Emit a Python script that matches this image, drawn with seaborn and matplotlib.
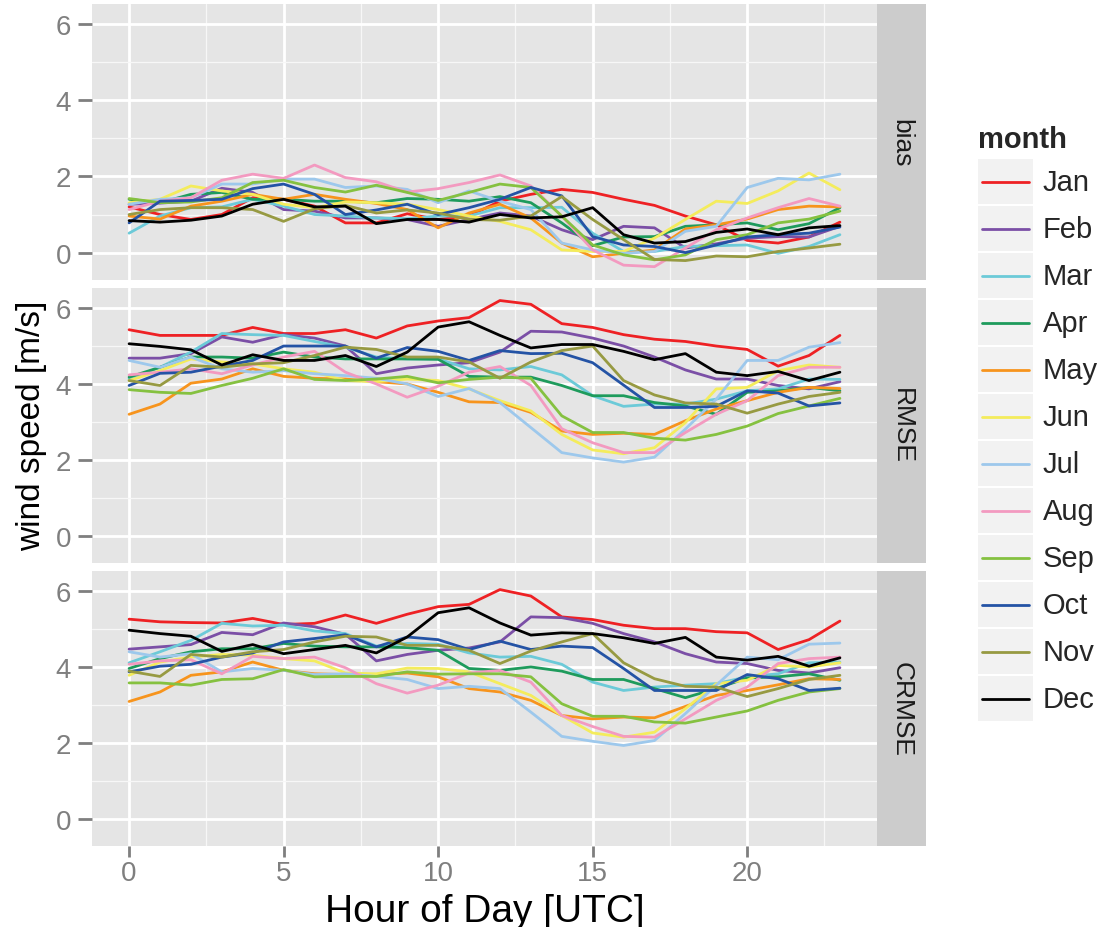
import numpy as np
import pandas as pd
import matplotlib
matplotlib.use("Agg")
import matplotlib.pyplot as plt
import seaborn as sns
from matplotlib.patches import Rectangle
from matplotlib.lines import Line2D

# ---------------- data ----------------
hours = list(range(24))
months = ["Jan", "Feb", "Mar", "Apr", "May", "Jun",
          "Jul", "Aug", "Sep", "Oct", "Nov", "Dec"]
metrics = ["bias", "RMSE", "CRMSE"]
month_colors = ["#EE2124", "#7B4FA6", "#6CCAD8", "#1E9B5C", "#F7941D", "#F4EC5C",
                "#9DC8EC", "#F39AC0", "#85C140", "#2453A5", "#979A42", "#000000"]

bias_jan = [1.20, 1.00, 0.87, 1.00, 1.44, 1.40, 1.22, 0.78, 0.78, 1.02, 0.87, 0.96,
            1.35, 1.53, 1.66, 1.58, 1.40, 1.24, 0.96, 0.73, 0.32, 0.25, 0.41, 0.80]
bias_feb = [1.27, 1.30, 1.35, 1.69, 1.58, 1.13, 1.09, 0.91, 0.91, 0.87, 0.69, 0.87,
            1.04, 0.96, 0.60, 0.34, 0.69, 0.65, 0.12, 0.23, 0.38, 0.42, 0.41, 0.69]
bias_mar = [0.51, 0.96, 1.18, 1.20, 1.40, 1.22, 1.00, 0.96, 0.91, 0.89, 0.96, 0.96,
            1.18, 1.18, 1.19, 0.51, 0.03, 0.03, 0.16, 0.18, 0.20, -0.02, 0.16, 0.47]
bias_apr = [1.40, 1.31, 1.53, 1.58, 1.40, 1.40, 1.35, 1.35, 1.31, 1.42, 1.40, 1.35,
            1.47, 1.31, 0.78, 0.18, 0.41, 0.42, 0.69, 0.73, 0.78, 0.60, 0.76, 1.18]
bias_may = [0.96, 0.88, 1.22, 1.35, 1.53, 1.40, 1.53, 1.40, 1.29, 1.13, 0.65, 1.04,
            1.27, 0.91, 0.25, -0.11, -0.02, 0.07, 0.62, 0.73, 0.88, 1.13, 1.22, 1.20]
bias_jun = [1.31, 1.40, 1.75, 1.62, 1.53, 1.27, 1.18, 1.33, 1.31, 1.27, 1.13, 0.96,
            0.82, 0.60, 0.07, 0.03, 0.03, 0.38, 0.87, 1.35, 1.29, 1.62, 2.09, 1.65]
bias_jul = [1.27, 1.40, 1.44, 1.80, 1.80, 1.93, 1.93, 1.71, 1.75, 1.66, 1.31, 1.62,
            1.35, 1.13, 0.25, 0.07, -0.02, 0.03, 0.56, 0.69, 1.71, 1.95, 1.91, 2.06]
bias_aug = [1.13, 1.35, 1.44, 1.90, 2.06, 1.95, 2.30, 1.97, 1.86, 1.59, 1.68, 1.84,
            2.04, 1.75, 0.96, 0.07, -0.33, -0.37, 0.12, 0.60, 0.91, 1.18, 1.42, 1.22]
bias_sep = [1.42, 1.31, 1.33, 1.44, 1.84, 1.90, 1.71, 1.59, 1.77, 1.58, 1.37, 1.58,
            1.80, 1.71, 0.96, 0.20, -0.06, -0.19, -0.06, 0.34, 0.47, 0.78, 0.88, 1.09]
bias_oct = [0.78, 1.35, 1.37, 1.40, 1.68, 1.80, 1.53, 1.00, 1.12, 1.27, 1.00, 1.18,
            1.40, 1.71, 1.49, 0.42, 0.20, 0.16, 0.00, 0.20, 0.41, 0.47, 0.51, 0.67]
bias_nov = [1.00, 1.13, 1.18, 1.18, 1.13, 0.82, 1.15, 1.24, 1.04, 1.12, 1.04, 0.87,
            0.85, 0.96, 1.47, 0.87, 0.34, -0.18, -0.21, -0.09, -0.11, 0.03, 0.12, 0.22]
bias_dec = [0.84, 0.80, 0.85, 0.96, 1.27, 1.40, 1.20, 1.22, 0.76, 0.87, 0.87, 0.80,
            1.00, 0.91, 0.94, 1.18, 0.47, 0.25, 0.29, 0.53, 0.62, 0.47, 0.65, 0.71]

rmse_jan = [5.43, 5.28, 5.28, 5.28, 5.49, 5.33, 5.33, 5.43, 5.21, 5.53, 5.66, 5.75,
            6.20, 6.10, 5.59, 5.49, 5.30, 5.18, 5.12, 5.00, 4.91, 4.47, 4.75, 5.28]
rmse_feb = [4.68, 4.68, 4.80, 5.24, 5.10, 5.30, 5.21, 5.00, 4.27, 4.42, 4.50, 4.56,
            4.84, 5.39, 5.37, 5.21, 5.00, 4.71, 4.37, 4.13, 4.13, 3.96, 3.87, 4.06]
rmse_mar = [4.13, 4.44, 4.84, 5.33, 5.30, 5.28, 5.12, 4.97, 4.71, 4.66, 4.66, 4.40,
            4.37, 4.46, 4.24, 3.69, 3.41, 3.47, 3.47, 3.60, 3.82, 3.87, 4.13, 4.12]
rmse_apr = [4.18, 4.44, 4.71, 4.71, 4.68, 4.84, 4.71, 4.66, 4.66, 4.66, 4.65, 4.20,
            4.18, 4.18, 3.96, 3.69, 3.69, 3.51, 3.42, 3.20, 3.78, 3.82, 3.91, 3.82]
rmse_may = [3.20, 3.47, 4.02, 4.13, 4.40, 4.20, 4.15, 4.13, 4.06, 4.00, 3.78, 3.53,
            3.51, 3.25, 2.76, 2.67, 2.70, 2.67, 3.03, 3.34, 3.56, 3.78, 3.91, 3.88]
rmse_jun = [4.09, 4.35, 4.66, 4.58, 4.53, 4.40, 4.31, 4.09, 4.06, 4.13, 4.09, 3.87,
            3.56, 3.29, 2.67, 2.26, 2.16, 2.32, 2.98, 3.87, 3.91, 4.35, 4.50, 4.44]
rmse_jul = [4.62, 4.44, 4.71, 4.40, 4.31, 4.35, 4.27, 4.22, 4.15, 4.00, 3.67, 3.88,
            3.51, 2.85, 2.19, 2.05, 1.94, 2.07, 2.81, 3.60, 4.62, 4.62, 4.97, 5.09]
rmse_aug = [4.24, 4.31, 4.40, 4.27, 4.50, 4.71, 4.86, 4.31, 4.00, 3.65, 3.94, 4.31,
            4.46, 3.96, 2.82, 2.45, 2.19, 2.19, 2.72, 3.20, 3.56, 4.22, 4.44, 4.44]
rmse_sep = [3.85, 3.78, 3.75, 3.96, 4.15, 4.40, 4.12, 4.09, 4.13, 4.20, 4.03, 4.12,
            4.18, 4.15, 3.16, 2.72, 2.72, 2.57, 2.52, 2.67, 2.89, 3.22, 3.42, 3.62]
rmse_oct = [3.96, 4.28, 4.31, 4.47, 4.62, 5.00, 5.00, 5.00, 4.68, 4.96, 4.86, 4.62,
            4.88, 4.80, 4.81, 4.56, 3.97, 3.38, 3.38, 3.41, 3.82, 3.76, 3.42, 3.50]
rmse_nov = [4.09, 3.96, 4.49, 4.44, 4.53, 4.56, 4.75, 4.97, 4.91, 4.71, 4.71, 4.58,
            4.15, 4.58, 4.88, 5.00, 4.09, 3.71, 3.50, 3.47, 3.23, 3.47, 3.67, 3.78]
rmse_dec = [5.06, 4.99, 4.90, 4.50, 4.77, 4.62, 4.62, 4.75, 4.46, 4.84, 5.50, 5.64,
            5.28, 4.95, 5.04, 5.04, 4.86, 4.64, 4.80, 4.31, 4.22, 4.33, 4.09, 4.31]

crmse_jan = [5.26, 5.19, 5.17, 5.16, 5.28, 5.12, 5.15, 5.37, 5.15, 5.39, 5.59, 5.65,
             6.04, 5.87, 5.32, 5.25, 5.10, 5.01, 5.01, 4.93, 4.90, 4.46, 4.72, 5.21]
crmse_feb = [4.47, 4.53, 4.59, 4.91, 4.85, 5.16, 5.06, 4.86, 4.16, 4.33, 4.44, 4.50,
             4.66, 5.32, 5.30, 5.15, 4.88, 4.66, 4.35, 4.13, 4.09, 3.91, 3.84, 3.98]
crmse_mar = [4.11, 4.40, 4.70, 5.15, 5.08, 5.10, 4.95, 4.88, 4.55, 4.62, 4.60, 4.37,
             4.26, 4.28, 4.07, 3.60, 3.38, 3.47, 3.52, 3.56, 3.74, 3.82, 4.11, 4.13]
crmse_apr = [3.96, 4.22, 4.40, 4.48, 4.48, 4.62, 4.55, 4.53, 4.53, 4.51, 4.44, 3.96,
             3.91, 4.00, 3.89, 3.67, 3.67, 3.43, 3.19, 3.43, 3.71, 3.74, 3.82, 3.65]
crmse_may = [3.09, 3.34, 3.78, 3.87, 4.13, 3.91, 3.82, 3.80, 3.80, 3.84, 3.74, 3.43,
             3.34, 3.12, 2.72, 2.63, 2.68, 2.66, 2.96, 3.25, 3.38, 3.53, 3.69, 3.67]
crmse_jun = [3.78, 4.13, 4.26, 4.33, 4.31, 4.22, 4.16, 3.84, 3.82, 3.97, 3.96, 3.87,
             3.56, 3.25, 2.72, 2.26, 2.15, 2.28, 2.90, 3.56, 3.65, 4.04, 4.00, 4.11]
crmse_jul = [4.40, 4.26, 4.35, 3.87, 3.96, 3.91, 3.80, 3.82, 3.75, 3.67, 3.43, 3.49,
             3.43, 2.81, 2.17, 2.04, 1.93, 2.06, 2.77, 3.52, 4.26, 4.19, 4.60, 4.63]
crmse_aug = [4.07, 4.16, 4.19, 3.82, 4.28, 4.22, 4.26, 3.98, 3.56, 3.31, 3.52, 3.84,
             3.91, 3.60, 2.72, 2.43, 2.17, 2.15, 2.63, 3.12, 3.47, 4.09, 4.22, 4.26]
crmse_sep = [3.58, 3.58, 3.52, 3.67, 3.69, 3.93, 3.74, 3.75, 3.75, 3.87, 3.81, 3.82,
             3.82, 3.74, 3.03, 2.70, 2.70, 2.55, 2.52, 2.68, 2.84, 3.12, 3.34, 3.43]
crmse_oct = [3.87, 4.02, 4.07, 4.26, 4.37, 4.66, 4.75, 4.85, 4.53, 4.79, 4.72, 4.46,
             4.68, 4.46, 4.55, 4.51, 3.96, 3.38, 3.38, 3.38, 3.80, 3.69, 3.38, 3.44]
crmse_nov = [3.89, 3.75, 4.33, 4.26, 4.40, 4.46, 4.66, 4.81, 4.79, 4.57, 4.57, 4.44,
             4.09, 4.42, 4.66, 4.88, 4.11, 3.69, 3.49, 3.47, 3.22, 3.43, 3.67, 3.78]
crmse_dec = [4.97, 4.88, 4.81, 4.41, 4.59, 4.35, 4.46, 4.57, 4.37, 4.79, 5.43, 5.56,
             5.16, 4.84, 4.90, 4.88, 4.77, 4.62, 4.78, 4.26, 4.18, 4.28, 4.02, 4.24]

x_ticks = [0, 5, 10, 15, 20]
y_ticks = [0, 2, 4, 6]

series = {
    "bias": [bias_jan, bias_feb, bias_mar, bias_apr, bias_may, bias_jun,
             bias_jul, bias_aug, bias_sep, bias_oct, bias_nov, bias_dec],
    "RMSE": [rmse_jan, rmse_feb, rmse_mar, rmse_apr, rmse_may, rmse_jun,
             rmse_jul, rmse_aug, rmse_sep, rmse_oct, rmse_nov, rmse_dec],
    "CRMSE": [crmse_jan, crmse_feb, crmse_mar, crmse_apr, crmse_may, crmse_jun,
              crmse_jul, crmse_aug, crmse_sep, crmse_oct, crmse_nov, crmse_dec],
}
rows = []
for metric in metrics:
    for m, vals in zip(months, series[metric]):
        for h, v in zip(hours, vals):
            rows.append({"metric": metric, "month": m, "hour": h, "value": v})
df = pd.DataFrame(rows)

# ---------------- style ----------------
sns.set_style("white")
plt.rcParams["font.family"] = ["Liberation Sans", "DejaVu Sans"]

W, H = 1108, 928
fig = plt.figure(figsize=(W / 100, H / 100), dpi=100)
fig.patch.set_facecolor("white")

panels = [(5, 281), (289, 564), (572, 847)]
left_px, right_px = 92, 877
strip_w = 49
palette = dict(zip(months, month_colors))

for i, (metric, (top, bot)) in enumerate(zip(metrics, panels)):
    ax = fig.add_axes([left_px / W, 1 - bot / H, (right_px - left_px) / W, (bot - top) / H])
    ax.set_facecolor("#E5E5E5")
    ax.set_axisbelow(True)
    sub = df[df["metric"] == metric]
    sns.lineplot(data=sub, x="hour", y="value", hue="month", hue_order=months,
                 palette=palette, estimator=None, errorbar=None, legend=False,
                 linewidth=2.0, ax=ax)
    ax.set_xlim(-1.2, 24.2)
    ax.set_ylim(-0.72, 6.53)
    ax.set_xticks(x_ticks)
    ax.set_xticks([2.5, 7.5, 12.5, 17.5, 22.5], minor=True)
    ax.set_yticks(y_ticks)
    ax.set_yticks([1, 3, 5], minor=True)
    ax.grid(which="major", color="white", linewidth=2.0)
    ax.grid(which="minor", color="#F7F7F7", linewidth=0.9)
    for s in ax.spines.values():
        s.set_visible(False)
    ax.set_xlabel("")
    ax.set_ylabel("")
    ax.tick_params(axis="y", which="major", length=10, width=2, color="#7F7F7F",
                   labelsize=20, labelcolor="#7F7F7F", pad=5, left=True)
    ax.tick_params(axis="x", which="major", length=8, width=2, color="#7F7F7F",
                   labelsize=20, labelcolor="#7F7F7F", pad=2, bottom=(i == 2),
                   labelbottom=(i == 2))
    ax.tick_params(which="minor", length=0)
    ax.set_yticklabels([str(t) for t in y_ticks])
    if i == 2:
        ax.set_xticklabels([str(t) for t in x_ticks])

    sax = fig.add_axes([right_px / W, 1 - bot / H, strip_w / W, (bot - top) / H])
    sax.set_facecolor("#CCCCCC")
    sax.set_xticks([]); sax.set_yticks([])
    for s in sax.spines.values():
        s.set_visible(False)
    sax.text(0.5, 0.5, metric, rotation=-90, ha="center", va="center",
             fontsize=19, color="#1A1A1A", transform=sax.transAxes)

fig.text(485 / W, 1 - 922 / H, "Hour of Day [UTC]", ha="center", va="baseline",
         fontsize=28, color="black")
fig.text(32 / W, 1 - 426 / H, "wind speed [m/s]", ha="center", va="center",
         rotation=90, fontsize=24, color="black")

# ---------------- legend ----------------
lax = fig.add_axes([0, 0, 1, 1], facecolor="none")
lax.set_xlim(0, W)
lax.set_ylim(H, 0)
lax.axis("off")
lax.text(978, 148, "month", fontsize=21, fontweight="bold", ha="left", va="baseline")
for k, (m, c) in enumerate(zip(months, month_colors)):
    y0 = 160 + 47 * k
    lax.add_patch(Rectangle((978, y0), 55, 45, facecolor="#F2F2F2", edgecolor="none"))
    lax.add_line(Line2D([982, 1029], [y0 + 22.5, y0 + 22.5], color=c, linewidth=2.0))
    lax.text(1043, y0 + 23, m, fontsize=21, ha="left", va="center")

fig.savefig("out.png", dpi=100)
